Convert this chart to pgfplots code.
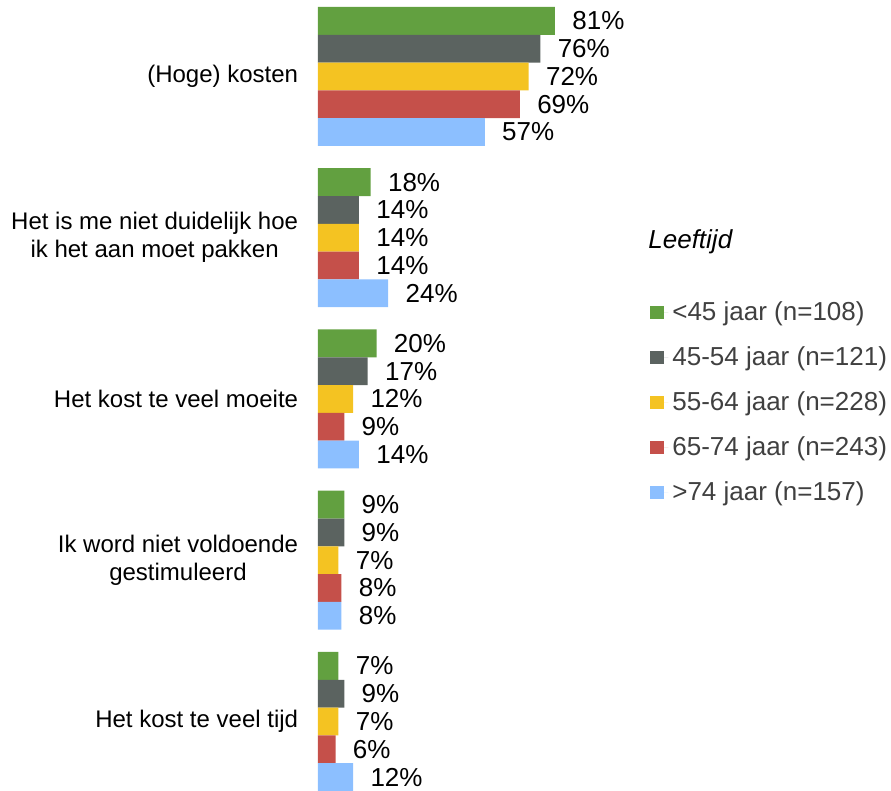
\documentclass[border=0pt]{standalone}
\usepackage{fontspec}
\setmainfont{Liberation Sans}
\usepackage{pgfplots}
\pgfplotsset{compat=1.18}
\definecolor{cg}{HTML}{62A040}
\definecolor{cd}{HTML}{5B6360}
\definecolor{cy}{HTML}{F4C322}
\definecolor{cr}{HTML}{C5504A}
\definecolor{cb}{HTML}{8CBFFF}
\definecolor{lg}{HTML}{404040}
\begin{document}
\begin{tikzpicture}
\path[use as bounding box] (-159pt,0pt) rectangle (286.5pt,395.5pt);
\begin{axis}[
  at={(0,0)}, anchor=south west,
  scale only axis, width=146.3pt, height=395.5pt,
  xbar, xmin=0, xmax=100,
  ymin=-0.4744, ymax=4.431, y dir=reverse,
  bar width=0.1724,
  axis line style={draw=none},
  major tick style={draw=none},
  xtick=\empty,
  ytick={0,1,2,3,4},
  yticklabels={{(Hoge) kosten},{Het is me niet duidelijk hoe\\ik het aan moet pakken},{Het kost te veel moeite},{Ik word niet voldoende\\gestimuleerd},{Het kost te veel tijd}},
  yticklabel style={align=center, anchor=east, inner sep=0pt, xshift=-5.5pt, font=\fontsize{12}{14}\selectfont, text=black},
  nodes near coords={\pgfmathprintnumber[assume math mode=true]{\pgfplotspointmeta}\%},
  every node near coord/.append style={anchor=west, inner sep=0pt, xshift=8.5pt, font=\fontsize{13}{15}\selectfont, text=black},
  legend style={draw=none, fill=none, at={(1.114,0.6296)}, anchor=north west, font=\fontsize{13}{15}\selectfont, text=lg, row sep=7.6pt, cells={anchor=west}},
  legend image code/.code={\fill[#1] (0pt,-3.4pt) rectangle (7pt,3.4pt); \path (0pt,0pt) -- (9pt,0pt);},
]
\addplot[fill=cg, draw=none, bar shift=-0.3448] coordinates {(81,0) (18,1) (20,2) (9,3) (7,4)};
\addplot[fill=cd, draw=none, bar shift=-0.1724] coordinates {(76,0) (14,1) (17,2) (9,3) (9,4)};
\addplot[fill=cy, draw=none, bar shift=0] coordinates {(72,0) (14,1) (12,2) (7,3) (7,4)};
\addplot[fill=cr, draw=none, bar shift=0.1724] coordinates {(69,0) (14,1) (9,2) (8,3) (6,4)};
\addplot[fill=cb, draw=none, bar shift=0.3448] coordinates {(57,0) (24,1) (14,2) (8,3) (12,4)};
\legend{{<45 jaar (n=108)},{45-54 jaar (n=121)},{55-64 jaar (n=228)},{65-74 jaar (n=243)},{>74 jaar (n=157)}}
\end{axis}
\node[anchor=west, inner sep=0pt, font=\fontsize{13}{15}\selectfont\itshape] at (165pt,274.5pt) {Leeftijd};
\end{tikzpicture}
\end{document}
